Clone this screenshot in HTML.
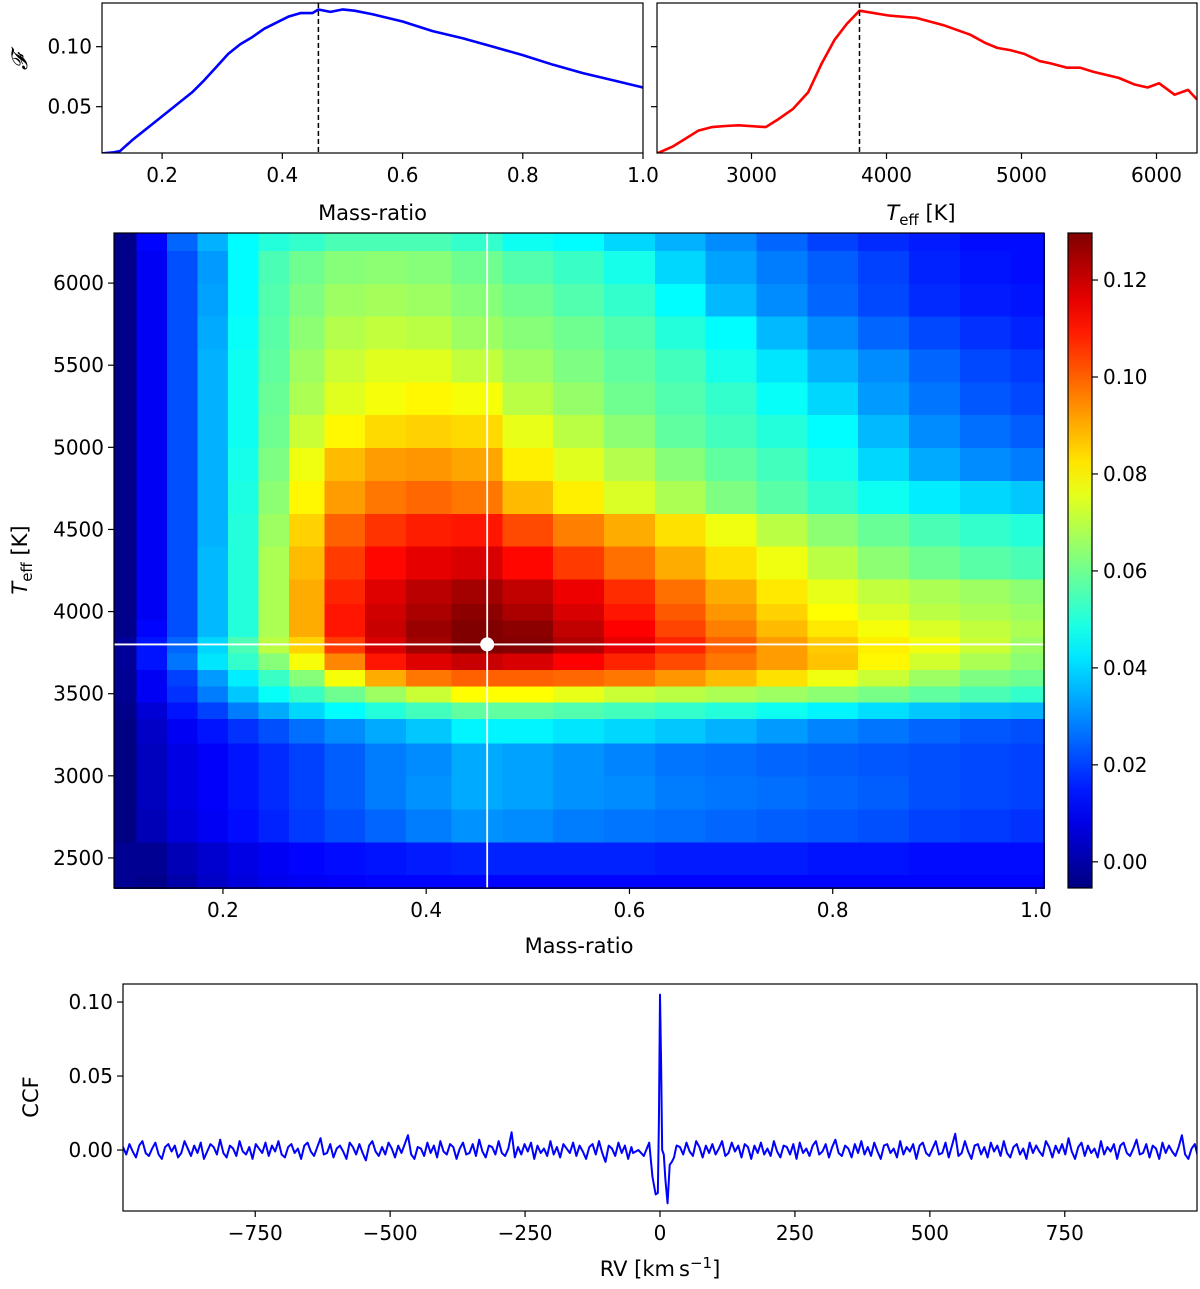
<!DOCTYPE html>
<html><head><meta charset="utf-8"><style>
body{margin:0;background:#fff;}
svg text{font-family:"DejaVu Sans","Liberation Sans",sans-serif;fill:#000;}
</style></head><body>
<svg id="fig" width="1200" height="1284" viewBox="0 0 1200 1284" xmlns="http://www.w3.org/2000/svg"></svg>
<script>
// ---- top-left: F vs mass ratio ----
const qCurveX=[0.10,0.12,0.13,0.15,0.17,0.19,0.21,0.23,0.25,0.27,0.29,0.31,0.33,0.35,0.37,0.39,0.41,0.43,0.45,0.46,0.48,0.50,0.52,0.55,0.60,0.65,0.70,0.75,0.80,0.85,0.90,0.95,1.00];
const qCurveF=[0.011,0.012,0.013,0.022,0.030,0.038,0.046,0.054,0.062,0.072,0.083,0.094,0.102,0.108,0.115,0.120,0.125,0.128,0.128,0.131,0.129,0.131,0.130,0.127,0.121,0.113,0.107,0.100,0.093,0.085,0.078,0.072,0.066];
// ---- top-right: F vs Teff ----
const tCurveX=[2300,2420,2606,2706,2820,2906,3106,3191,3306,3420,3520,3614,3706,3800,4014,4220,4420,4620,4734,4820,4920,5020,5134,5220,5334,5434,5534,5720,5834,5934,6020,6134,6234,6300];
const tCurveF=[0.011,0.017,0.030,0.033,0.034,0.0345,0.033,0.039,0.048,0.062,0.086,0.1055,0.119,0.130,0.126,0.124,0.118,0.110,0.103,0.099,0.097,0.094,0.088,0.086,0.0825,0.0825,0.079,0.074,0.0686,0.066,0.0695,0.060,0.064,0.056];
const bestQ=0.46, bestT=3800;
// ---- heatmap ----
const gridQ=[0.10,0.13,0.16,0.19,0.22,0.25,0.28,0.32,0.36,0.40,0.45,0.50,0.55,0.60,0.65,0.70,0.75,0.80,0.85,0.90,0.95,1.00];
const gridT=[2300,2500,2700,2900,3100,3300,3400,3500,3600,3700,3800,3900,4000,4100,4300,4500,4700,4900,5100,5300,5500,5700,5900,6100,6300];
const gridF=[
[-0.003,-0.004,0.000,0.004,0.007,0.009,0.010,0.011,0.012,0.012,0.012,0.012,0.012,0.012,0.012,0.012,0.012,0.012,0.012,0.012,0.012,0.012],
[-0.003,-0.003,0.002,0.005,0.008,0.010,0.012,0.013,0.014,0.015,0.016,0.016,0.016,0.016,0.015,0.015,0.015,0.014,0.014,0.013,0.013,0.013],
[-0.005,0.002,0.007,0.010,0.013,0.016,0.019,0.022,0.025,0.028,0.031,0.030,0.028,0.027,0.026,0.025,0.024,0.023,0.022,0.020,0.019,0.018],
[-0.005,0.003,0.008,0.011,0.014,0.017,0.020,0.024,0.028,0.031,0.034,0.033,0.031,0.030,0.028,0.027,0.026,0.025,0.024,0.022,0.021,0.020],
[-0.005,0.003,0.008,0.011,0.014,0.017,0.020,0.024,0.028,0.030,0.034,0.033,0.031,0.029,0.027,0.026,0.025,0.024,0.023,0.022,0.021,0.020],
[-0.005,0.004,0.010,0.014,0.018,0.022,0.026,0.030,0.034,0.038,0.044,0.044,0.042,0.040,0.038,0.035,0.032,0.029,0.027,0.025,0.023,0.022],
[-0.004,0.006,0.014,0.020,0.028,0.034,0.040,0.045,0.050,0.054,0.058,0.058,0.056,0.054,0.052,0.050,0.047,0.044,0.041,0.038,0.036,0.035],
[-0.003,0.010,0.018,0.028,0.038,0.046,0.053,0.060,0.066,0.072,0.079,0.079,0.076,0.072,0.070,0.068,0.066,0.064,0.061,0.058,0.055,0.052],
[-0.003,0.010,0.020,0.032,0.043,0.053,0.063,0.078,0.090,0.097,0.100,0.100,0.099,0.097,0.093,0.088,0.083,0.077,0.072,0.066,0.062,0.060],
[-0.002,0.014,0.027,0.042,0.052,0.063,0.078,0.095,0.110,0.117,0.120,0.118,0.113,0.108,0.103,0.097,0.092,0.087,0.080,0.073,0.068,0.064],
[-0.002,0.014,0.025,0.040,0.055,0.070,0.085,0.105,0.118,0.125,0.130,0.129,0.123,0.116,0.108,0.100,0.092,0.086,0.081,0.077,0.072,0.066],
[-0.004,0.012,0.022,0.036,0.050,0.068,0.090,0.110,0.120,0.126,0.130,0.128,0.121,0.113,0.104,0.096,0.088,0.082,0.078,0.074,0.071,0.068],
[-0.004,0.010,0.022,0.036,0.050,0.068,0.090,0.110,0.119,0.124,0.128,0.124,0.118,0.110,0.101,0.093,0.085,0.079,0.074,0.070,0.068,0.066],
[-0.004,0.010,0.022,0.036,0.050,0.068,0.090,0.108,0.117,0.122,0.125,0.121,0.115,0.107,0.098,0.090,0.082,0.076,0.071,0.068,0.066,0.064],
[-0.004,0.010,0.022,0.036,0.050,0.068,0.088,0.105,0.112,0.116,0.118,0.112,0.105,0.098,0.090,0.083,0.077,0.070,0.064,0.060,0.057,0.055],
[-0.004,0.010,0.022,0.035,0.050,0.066,0.085,0.100,0.106,0.109,0.110,0.103,0.096,0.090,0.083,0.077,0.070,0.064,0.059,0.055,0.052,0.050],
[-0.004,0.010,0.022,0.035,0.049,0.064,0.080,0.092,0.097,0.099,0.097,0.088,0.081,0.074,0.068,0.062,0.057,0.052,0.047,0.043,0.040,0.038],
[-0.004,0.010,0.022,0.035,0.048,0.062,0.077,0.088,0.092,0.093,0.091,0.081,0.075,0.069,0.063,0.058,0.054,0.048,0.040,0.034,0.030,0.028],
[-0.004,0.010,0.022,0.035,0.047,0.060,0.072,0.080,0.084,0.085,0.084,0.076,0.070,0.064,0.058,0.054,0.050,0.045,0.036,0.030,0.026,0.024],
[-0.004,0.010,0.022,0.035,0.047,0.059,0.068,0.075,0.078,0.080,0.078,0.070,0.065,0.060,0.056,0.052,0.046,0.040,0.032,0.027,0.023,0.021],
[-0.004,0.010,0.022,0.035,0.047,0.058,0.066,0.072,0.075,0.075,0.071,0.066,0.062,0.058,0.054,0.048,0.042,0.035,0.030,0.025,0.021,0.019],
[-0.004,0.010,0.022,0.034,0.046,0.057,0.064,0.069,0.071,0.070,0.066,0.063,0.060,0.056,0.050,0.045,0.036,0.030,0.025,0.021,0.018,0.016],
[-0.004,0.010,0.022,0.033,0.045,0.056,0.062,0.066,0.067,0.066,0.063,0.060,0.056,0.052,0.045,0.036,0.030,0.025,0.021,0.017,0.015,0.014],
[-0.004,0.010,0.022,0.032,0.045,0.055,0.060,0.063,0.064,0.063,0.060,0.056,0.053,0.048,0.040,0.033,0.028,0.024,0.020,0.016,0.014,0.013],
[-0.004,0.012,0.025,0.035,0.045,0.050,0.052,0.055,0.055,0.055,0.052,0.047,0.045,0.040,0.035,0.030,0.025,0.020,0.017,0.015,0.013,0.013]];
const cbTicks=[0.00,0.02,0.04,0.06,0.08,0.10,0.12];
// ---- CCF ----
const ccfNoiseStart=-995, ccfNoiseStep=6;
const ccfNoise=[2,-3,4,-1,-5,3,6,-2,-4,1,5,-3,-6,2,4,-1,3,-5,-2,6,1,-4,3,-2,5,-6,-1,4,2,-3,7,-2,-5,3,1,-4,6,-1,-3,2,-6,4,1,-2,5,-4,3,-1,6,-3,-5,2,4,-2,1,-6,3,5,-1,-4,2,8,-3,-2,4,-5,1,3,-1,-6,5,2,-3,4,-2,-7,3,6,-1,-4,2,-3,5,1,-5,3,-2,4,10,-3,-6,2,1,-4,5,-2,3,-5,6,-1,-3,4,2,-6,1,5,-3,-2,4,-4,7,-1,-5,3,2,-3,6,-2,-4,1,12,-5,2,-3,4,-1,5,-6,3,-2,1,-4,6,-3,2,-5,4,1,-2,5,-4,3,-1,-6,2,4,-3,6,-2,-8,3,1,-4,5,-2,3,-6,2,4,-1,-5,3,6,-3,-2,4,-4,1,5,-2,-6,3,2,-3,5,-1,-4,6,2,-5,3,-2,4,-3,1,6,-4,-2,5,-1,3,-5,4,2,-6,3,-2,5,-3,1,-4,6,-1,-5,3,2,-3,4,-6,5,-2,1,-4,3,6,-3,-1,4,-5,2,7,-2,-4,3,1,-5,4,-2,6,-3,2,-4,5,-1,-6,3,4,-2,1,-5,6,-3,2,-1,4,-6,3,5,-2,-4,1,6,-3,-2,5,-5,3,11,-4,-2,6,-1,-6,3,4,-3,2,-5,5,-1,3,-4,6,-2,-5,2,4,-3,1,-6,5,-2,3,-1,-4,6,2,-5,3,-2,4,-3,8,-1,-6,2,5,-4,3,-2,1,-5,6,-3,2,-1,4,-6,3,5,-2,-4,1,7,-3,-2,4,-5,3,1,-6,5,-2,3,-1,-4,2,10,-3,-6,1,4,-5,3];
const ccfPeakRV=[-50,-40,-30,-20,-14,-8,-4,-2,0,2,4,7,10,14,18,22,26,30];
const ccfPeakVal=[-0.002,0.000,-0.004,0.005,-0.018,-0.030,-0.029,0.020,0.105,0.060,0.000,-0.003,-0.020,-0.036,-0.010,-0.008,-0.005,0.002];

const NS='http://www.w3.org/2000/svg';
const svg=document.getElementById('fig');
function mk(tag,attrs,parent){const e=document.createElementNS(NS,tag);for(const k in attrs)e.setAttribute(k,attrs[k]);(parent||svg).appendChild(e);return e;}
function txt(s,x,y,size,anchor,parent){const t=mk('text',{x:x,y:y,'font-size':size,'text-anchor':anchor||'middle'},parent);t.textContent=s;return t;}
function lin(d0,d1,p0,p1){return v=>p0+(v-d0)/(d1-d0)*(p1-p0);}
function jet(v,vmin,vmax){let t=(v-vmin)/(vmax-vmin);t=Math.max(0,Math.min(1,t));const c=x=>Math.round(255*Math.max(0,Math.min(1,x)));return `rgb(${c(1.5-Math.abs(4*t-3))},${c(1.5-Math.abs(4*t-2))},${c(1.5-Math.abs(4*t-1))})`;}
function frame(x0,y0,x1,y1,name){const r=mk('rect',{x:x0,y:y0,width:x1-x0,height:y1-y0,fill:'none',stroke:'#000','stroke-width':1.2});}
function xticks(vals,labels,sx,y,name){const g=mk('g',{});vals.forEach((v,i)=>{const x=sx(v);mk('line',{x1:x,x2:x,y1:y,y2:y+6,stroke:'#000','stroke-width':1.2},g);txt(labels[i],x,y+29,20,'middle',g);});}
function yticks(vals,labels,sy,x,name,right){const g=mk('g',{});vals.forEach((v,i)=>{const y=sy(v);if(right){mk('line',{x1:x,x2:x+6,y1:y,y2:y,stroke:'#000','stroke-width':1.2},g);txt(labels[i],x+11,y+7,20,'start',g);}else{mk('line',{x1:x-6,x2:x,y1:y,y2:y,stroke:'#000','stroke-width':1.2},g);txt(labels[i],x-10,y+7,20,'end',g);}});}
function poly(xs,ys,sx,sy,color,w,name){const p=mk('polyline',{points:xs.map((x,i)=>sx(x).toFixed(2)+','+sy(ys[i]).toFixed(2)).join(' '),fill:'none',stroke:color,'stroke-width':w,'stroke-linejoin':'round'});return p;}

// Top-left panel
{const L=102,R=643,T=3,B=153;const sx=lin(0.1,1.0,L,R),sy=lin(0.0114,0.1364,B,T);
 const cp=mk('clipPath',{id:'c1'});mk('rect',{x:L,y:T,width:R-L,height:B-T},cp);
 const p=poly(qCurveX,qCurveF,sx,sy,'#0000ff',2.6,'mass-ratio-curve');p.setAttribute('clip-path','url(#c1)');
 const d=mk('line',{x1:sx(bestQ),x2:sx(bestQ),y1:T,y2:B,stroke:'#000','stroke-width':1.5,'stroke-dasharray':'5,3'});
 frame(L,T,R,B,'top-left-axes');
 xticks([0.2,0.4,0.6,0.8,1.0],['0.2','0.4','0.6','0.8','1.0'],sx,B,'top-left-x-ticks');
 yticks([0.05,0.10],['0.05','0.10'],sy,L,'top-left-y-ticks');
 const xl=txt('Mass-ratio',(L+R)/2,220,21);
 const yl=txt('𝓕',0,0,22);yl.setAttribute('transform','translate(27,62) rotate(-90)');yl.setAttribute('font-style','italic');}

// Top-right panel
{const L=657,R=1197,T=3,B=153;const sx=lin(2300,6300,L,R),sy=lin(0.0114,0.1364,B,T);
 const cp=mk('clipPath',{id:'c2'});mk('rect',{x:L,y:T,width:R-L,height:B-T},cp);
 const p=poly(tCurveX,tCurveF,sx,sy,'#ff0000',2.6,'teff-curve');p.setAttribute('clip-path','url(#c2)');
 const d=mk('line',{x1:sx(bestT),x2:sx(bestT),y1:T,y2:B,stroke:'#000','stroke-width':1.5,'stroke-dasharray':'5,3'});
 frame(L,T,R,B,'top-right-axes');
 xticks([3000,4000,5000,6000],['3000','4000','5000','6000'],sx,B,'top-right-x-ticks');
 yticks([0.05,0.10],['',''],sy,L,'top-right-y-ticks');
 const xl=mk('text',{x:(L+R)/2-6,y:220,'font-size':21,'text-anchor':'middle'});
 xl.innerHTML='<tspan font-style="italic">T</tspan><tspan font-size="15" dy="5">eff</tspan><tspan dy="-5"> [K]</tspan>';}

// Heatmap
{const L=114,R=1044,T=233,B=888;const q0=0.0928,q1=1.0079,t0=2317,t1=6305;const sx=lin(q0,q1,L,R),sy=lin(t0,t1,B,T);
 const vmin=-0.0054,vmax=0.1297;
 const g=mk('g',{'shape-rendering':'crispEdges'});
 const qe=[q0];for(let i=0;i<gridQ.length-1;i++)qe.push((gridQ[i]+gridQ[i+1])/2);qe.push(q1);
 const te=[t0];for(let i=0;i<gridT.length-1;i++)te.push((gridT[i]+gridT[i+1])/2);te.push(t1);
 gridF.forEach((row,r)=>row.forEach((v,c)=>{const x=sx(qe[c]),x2=sx(qe[c+1]),y=sy(te[r+1]),y2=sy(te[r]);
  const cell=mk('rect',{x:x.toFixed(1),y:y.toFixed(1),width:(x2-x+0.8).toFixed(1),height:(y2-y+0.8).toFixed(1),fill:jet(v,vmin,vmax)},g);
  }));
 const v=mk('line',{x1:sx(bestQ),x2:sx(bestQ),y1:T,y2:B,stroke:'#fff','stroke-width':1.8});
 const h=mk('line',{x1:L,x2:R,y1:sy(bestT),y2:sy(bestT),stroke:'#fff','stroke-width':1.8});
 const dot=mk('circle',{cx:sx(bestQ),cy:sy(bestT),r:7,fill:'#fff'});
 frame(L,T,R,B,'heatmap-axes');
 xticks([0.2,0.4,0.6,0.8,1.0],['0.2','0.4','0.6','0.8','1.0'],sx,B,'heatmap-x-ticks');
 yticks([2500,3000,3500,4000,4500,5000,5500,6000],['2500','3000','3500','4000','4500','5000','5500','6000'],sy,L,'heatmap-y-ticks');
 const xl=txt('Mass-ratio',(L+R)/2,953,21);
 const yl=mk('text',{'font-size':21,'text-anchor':'middle',transform:'translate(27,560) rotate(-90)'});
 yl.innerHTML='<tspan font-style="italic">T</tspan><tspan font-size="15" dy="5">eff</tspan><tspan dy="-5"> [K]</tspan>';
 // colorbar
 const CL=1068,CR=1092;const scb=lin(vmin,vmax,B,T);
 const defs=mk('defs',{});const lg=mk('linearGradient',{id:'jetg',x1:0,y1:1,x2:0,y2:0},defs);
 for(let i=0;i<=20;i++){mk('stop',{offset:i/20,'stop-color':jet(vmin+i/20*(vmax-vmin),vmin,vmax)},lg);}
 const cb=mk('rect',{x:CL,y:T,width:CR-CL,height:B-T,fill:'url(#jetg)'});
 frame(CL,T,CR,B,'colorbar-frame');
 yticks(cbTicks,cbTicks.map(v=>v.toFixed(2)),scb,CR,'colorbar-ticks',true);}

// CCF panel
{const L=123,R=1197,T=984,B=1211;const sx=lin(-995,995,L,R),sy=lin(-0.0412,0.1122,B,T);
 const rv=[],cc=[];
 ccfNoise.forEach((n,i)=>{const r=ccfNoiseStart+i*ccfNoiseStep;if(r<ccfPeakRV[0]||r>ccfPeakRV[ccfPeakRV.length-1]){rv.push(r);cc.push(n/1000);}});
 ccfPeakRV.forEach((r,i)=>{rv.push(r);cc.push(ccfPeakVal[i]);});
 const idx=rv.map((r,i)=>i).sort((a,b)=>rv[a]-rv[b]);
 const cp=mk('clipPath',{id:'c3'});mk('rect',{x:L,y:T,width:R-L,height:B-T},cp);
 const p=poly(idx.map(i=>rv[i]),idx.map(i=>cc[i]),sx,sy,'#0000ff',2,'ccf-line');p.setAttribute('clip-path','url(#c3)');
 frame(L,T,R,B,'ccf-axes');
 xticks([-750,-500,-250,0,250,500,750],['\u2212750','\u2212500','\u2212250','0','250','500','750'],sx,B,'ccf-x-ticks');
 yticks([0.00,0.05,0.10],['0.00','0.05','0.10'],sy,L,'ccf-y-ticks');
 const xl=mk('text',{x:(L+R)/2,y:1276,'font-size':21,'text-anchor':'middle'});
 xl.innerHTML='RV [km<tspan dx="4">s</tspan><tspan font-size="15" dy="-8">\u22121</tspan><tspan dy="8">]</tspan>';
 const yl=txt('CCF',0,0,21);yl.setAttribute('transform','translate(38,1097) rotate(-90)');}
</script>
</body></html>
